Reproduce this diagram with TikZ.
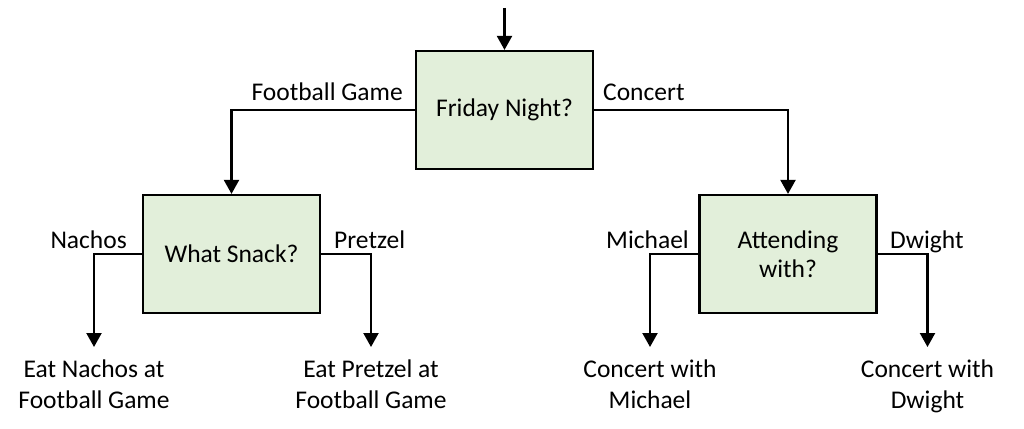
\documentclass[tikz,border=0pt]{standalone}
\usepackage{fontspec}
\setmainfont{Carlito}
\usetikzlibrary{arrows.meta}
\definecolor{boxgreen}{RGB}{226,239,218}
\tikzset{
  decbox/.style={draw=black, line width=2.2pt, fill=boxgreen, minimum width=177pt, minimum height=118pt, inner sep=0pt, align=center, font=\fontsize{25.5}{29}\selectfont},
  lbl/.style={inner sep=0pt, font=\fontsize{25.5}{31}\selectfont},
  leaf/.style={inner xsep=0pt, inner ysep=0pt, align=center, anchor=north, font=\fontsize{25.5}{31}\selectfont},
  conn/.style={line width=2.2pt, -{Triangle[width=15pt,length=14pt]}},
}
\begin{document}
\begin{tikzpicture}[x=1pt,y=-1pt]
\useasboundingbox (0,0) rectangle (1024,428);
\node[decbox] (fri) at (504.5,110) {Friday Night?};
\node[decbox] (snack) at (231.5,254) {What Snack?};
\node[decbox] (att) at (788,254) {Attending\\with?};
\coordinate (start) at (504.5,8);
\node[leaf] (nachos) at (94,360) {Eat Nachos at\\Football Game};
\node[leaf] (pretzel) at (371,360) {Eat Pretzel at\\Football Game};
\node[leaf] (mich) at (650,360) {Concert with\\Michael};
\node[leaf] (dwi) at (927.5,360) {Concert with\\Dwight};
\coordinate (tn) at (94,347);
\coordinate (tp) at (371,347);
\coordinate (tm) at (650,347);
\coordinate (td) at (927.5,347);
\draw[conn] (start) -- (fri.north);
\draw[conn] (fri.west) -| (snack.north);
\draw[conn] (fri.east) -| (att.north);
\draw[conn] (snack.west) -| (tn);
\draw[conn] (snack.east) -| (tp);
\draw[conn] (att.west) -| (tm);
\draw[conn] (att.east) -| (td);
\node[lbl, anchor=base east] (lfg) at (403,100) {Football Game};
\node[lbl, anchor=base west] (lco) at (603,100) {Concert};
\node[lbl, anchor=base east] (lna) at (127,248) {Nachos};
\node[lbl, anchor=base west] (lpr) at (334,248) {Pretzel};
\node[lbl, anchor=base east] (lmi) at (689,248) {Michael};
\node[lbl, anchor=base west] (ldw) at (890,248) {Dwight};
\end{tikzpicture}
\end{document}
